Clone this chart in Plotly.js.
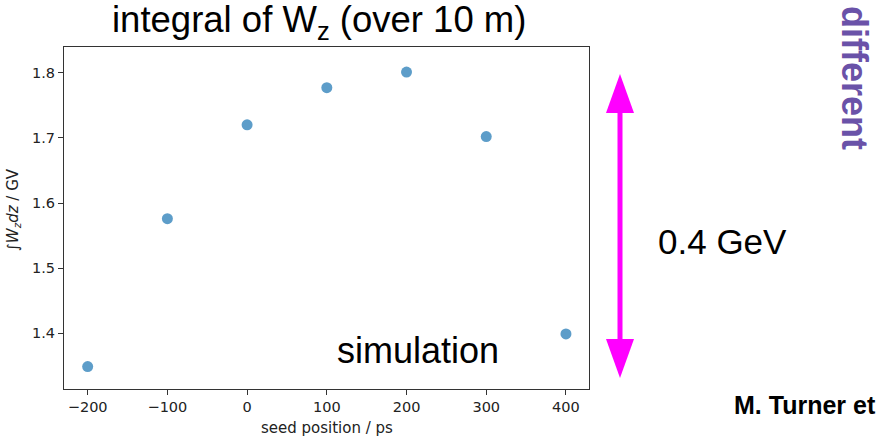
<!DOCTYPE html>
<html>
<head>
<meta charset="utf-8">
<script src="https://cdn.plot.ly/plotly-3.0.1.min.js"></script>
<style>html,body{margin:0;padding:0;background:#fff;}#chart{width:884px;height:438px;}</style>
</head>
<body>
<div id="chart"></div>
<script>
// Data
const seedPositions = [-200, -100, 0, 100, 200, 300, 400];
const integralWz = [1.349, 1.576, 1.720, 1.777, 1.801, 1.702, 1.399];
const xTickVals = [-200, -100, 0, 100, 200, 300, 400];
const yTickVals = [1.4, 1.5, 1.6, 1.7, 1.8];

// Layout geometry (pixels)
const W = 884, H = 438;
const L = 64, R = 589, T = 47, B = 389;
const px = x => (x - L) / (R - L);
const py = y => (B - y) / (B - T);

const MAG = '#ff00ff';
const arrowX = 620;

const trace = {
  x: seedPositions,
  y: integralWz,
  type: 'scatter',
  mode: 'markers',
  marker: {size: 11, color: '#1f77b4', opacity: 0.72, line: {width: 0}},
  hoverinfo: 'x+y'
};

const axisCommon = {
  showline: true, mirror: true, linecolor: '#333', linewidth: 1,
  ticks: 'outside', ticklen: 5, tickwidth: 1, tickcolor: '#333',
  showgrid: false, zeroline: false,
  tickfont: {family: 'DejaVu Sans', size: 14.5, color: '#222'}
};

const layout = {
  width: W, height: H,
  margin: {l: L, r: W - R, t: T, b: H - B, pad: 0},
  paper_bgcolor: '#fff', plot_bgcolor: '#fff',
  showlegend: false,
  xaxis: Object.assign({}, axisCommon, {range: [-229.7, 428.9], tickvals: xTickVals, ticktext: xTickVals.map(v => v < 0 ? '\u2212' + Math.abs(v) : String(v))}),
  yaxis: Object.assign({}, axisCommon, {range: [1.3145, 1.8395], tickvals: yTickVals, ticktext: yTickVals.map(v => v.toFixed(1))}),
  shapes: [
    {type: 'line', xref: 'paper', yref: 'paper', x0: px(arrowX), x1: px(arrowX), y0: py(110), y1: py(342), line: {color: MAG, width: 5}},
    {type: 'path', xref: 'paper', yref: 'paper', fillcolor: MAG, line: {width: 0},
     path: `M ${px(606)},${py(113)} L ${px(634)},${py(113)} L ${px(620)},${py(74)} Z`},
    {type: 'path', xref: 'paper', yref: 'paper', fillcolor: MAG, line: {width: 0},
     path: `M ${px(606)},${py(339)} L ${px(634)},${py(339)} L ${px(620)},${py(378)} Z`}
  ],
  annotations: [
    {text: 'integral of W<sub>z</sub> (over 10 m)', xref: 'paper', yref: 'paper', x: px(318.5), y: py(22), xanchor: 'center', yanchor: 'middle', showarrow: false,
     font: {family: 'Liberation Sans, Arial', size: 36.5, color: '#000'}},
    {text: 'simulation', xref: 'paper', yref: 'paper', x: px(418), y: py(350), xanchor: 'center', yanchor: 'middle', showarrow: false,
     font: {family: 'Liberation Sans, Arial', size: 36, color: '#000'}},
    {text: '0.4 GeV', xref: 'paper', yref: 'paper', x: px(722.5), y: py(241), xanchor: 'center', yanchor: 'middle', showarrow: false,
     font: {family: 'Liberation Sans, Arial', size: 35, color: '#000'}},
    {text: '<b>different</b>', xref: 'paper', yref: 'paper', x: px(855), y: py(78), xanchor: 'center', yanchor: 'middle', showarrow: false, textangle: 90,
     font: {family: 'Liberation Sans, Arial', size: 36, color: '#6a52a8'}},
    {text: '<b>M. Turner et</b>', xref: 'paper', yref: 'paper', x: px(878), y: py(405), xanchor: 'right', yanchor: 'middle', showarrow: false,
     font: {family: 'Liberation Sans, Arial', size: 25, color: '#000'}},
    {text: '\u222B<i>W<sub>z</sub>dz</i> / GV', xref: 'paper', yref: 'paper', x: px(13), y: py(210), xanchor: 'center', yanchor: 'middle', showarrow: false, textangle: -90,
     font: {family: 'DejaVu Sans', size: 15, color: '#222'}},
    {text: 'seed position / ps', xref: 'paper', yref: 'paper', x: px(327), y: py(428), xanchor: 'center', yanchor: 'middle', showarrow: false,
     font: {family: 'DejaVu Sans', size: 15, color: '#222'}}
  ]
};

Plotly.newPlot('chart', [trace], layout, {displayModeBar: false, staticPlot: true});
</script>
</body>
</html>
